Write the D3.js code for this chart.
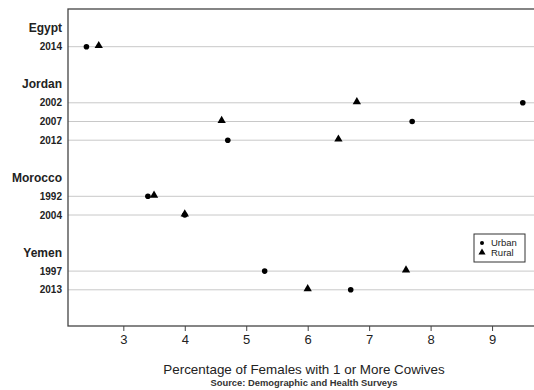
<!DOCTYPE html>
<html>
<head>
<meta charset="utf-8">
<script src="https://cdn.jsdelivr.net/npm/d3@7"></script>
<style>
  body { margin: 0; background: #fff; overflow: hidden; }
  svg { display: block; font-family: "Liberation Sans", Arial, sans-serif; }
</style>
</head>
<body>
<div id="chart"></div>
<script>
// row layout: country headers and survey years
const countries = ["Egypt", "Jordan", "Morocco", "Yemen"];
const years = [["2014"], ["2002", "2007", "2012"], ["1992", "2004"], ["1997", "2013"]];
const urban = [[2.4], [9.5, 7.7, 4.7], [3.4, 4.0], [5.3, 6.7]];
const rural = [[2.6], [6.8, 4.6, 6.5], [3.5, 4.0], [7.6, 6.0]];
const xTicks = [3, 4, 5, 6, 7, 8, 9];

const svgW = 534;
const svgH = 390;
const plotL = 68, plotT = 9, plotB = 326, plotR = 540;

// build rows: header, years, blank
const rows = [];
let idx = 1;
countries.forEach((c, i) => {
    rows.push({ label: c, row: idx, header: true });
    idx++;
    years[i].forEach((y, j) => {
        rows.push({ label: y, row: idx, header: false, urban: urban[i][j], rural: rural[i][j] });
        idx++;
    });
    idx++;
});

const xScale = d3.scaleLinear().domain([2.1, 9.78]).range([plotL, plotR]);
const yScale = d3.scaleLinear().domain([0, 17]).range([plotT + 0.3, plotT + 0.3 + 17 * 18.7]);

const svg = d3.select("#chart").append("svg")
    .attr("width", svgW)
    .attr("height", svgH);

const dataRows = rows.filter(d => !d.header);

// gridlines
svg.selectAll("line.grid")
    .data(dataRows)
    .enter()
    .append("line")
    .attr("class", "grid")
    .attr("x1", plotL)
    .attr("x2", plotR + 30)
    .attr("y1", d => yScale(d.row))
    .attr("y2", d => yScale(d.row))
    .attr("stroke", "#c8c8c8")
    .attr("stroke-width", 1);

// frame (right side runs off the picture)
svg.append("rect")
    .attr("x", plotL)
    .attr("y", plotT)
    .attr("width", plotR - plotL + 30)
    .attr("height", plotB - plotT)
    .attr("fill", "none")
    .attr("stroke", "#444")
    .attr("stroke-width", 1.3);

// row labels
svg.selectAll("text.rowlab")
    .data(rows)
    .enter()
    .append("text")
    .attr("class", "rowlab")
    .attr("x", 62)
    .attr("y", d => yScale(d.row))
    .attr("dy", "0.35em")
    .attr("text-anchor", "end")
    .attr("font-weight", "bold")
    .attr("font-size", d => d.header ? "12px" : "10px")
    .attr("fill", "#222")
    .text(d => d.label);

// x axis
const xAxis = d3.axisBottom(xScale).tickValues(xTicks).tickSize(5).tickPadding(4).tickFormat(d3.format("d"));
const gx = svg.append("g")
    .attr("transform", `translate(0, ${plotB})`)
    .call(xAxis);
gx.select(".domain").remove();
gx.selectAll("line").attr("stroke", "#444");
gx.selectAll("text")
    .attr("font-size", "13px")
    .attr("font-family", "'Liberation Sans', Arial, sans-serif")
    .attr("fill", "#222");

// markers
const tri = d3.symbol().type(d3.symbolTriangle).size(30);

svg.selectAll("circle.urban")
    .data(dataRows)
    .enter()
    .append("circle")
    .attr("class", "urban")
    .attr("cx", d => xScale(d.urban))
    .attr("cy", d => yScale(d.row))
    .attr("r", 2.8)
    .attr("fill", "#000");

svg.selectAll("path.rural")
    .data(dataRows)
    .enter()
    .append("path")
    .attr("class", "rural")
    .attr("d", tri)
    .attr("transform", d => `translate(${xScale(d.rural)}, ${yScale(d.row) - 1})`)
    .attr("fill", "#000");

// legend
const legend = svg.append("g").attr("transform", "translate(474, 234)");
legend.append("rect")
    .attr("width", 51)
    .attr("height", 28)
    .attr("fill", "#fff")
    .attr("stroke", "#333")
    .attr("stroke-width", 1);
legend.append("circle")
    .attr("cx", 8)
    .attr("cy", 9)
    .attr("r", 2)
    .attr("fill", "#000");
legend.append("path")
    .attr("d", d3.symbol().type(d3.symbolTriangle).size(22))
    .attr("transform", "translate(8, 18.5)")
    .attr("fill", "#000");
legend.append("text")
    .attr("x", 17).attr("y", 9).attr("dy", "0.35em")
    .attr("font-size", "9.5px").attr("fill", "#222")
    .text("Urban");
legend.append("text")
    .attr("x", 17).attr("y", 19).attr("dy", "0.35em")
    .attr("font-size", "9.5px").attr("fill", "#222")
    .text("Rural");

// titles
svg.append("text")
    .attr("x", 304)
    .attr("y", 374)
    .attr("text-anchor", "middle")
    .attr("font-size", "13.4px")
    .attr("fill", "#222")
    .text("Percentage of Females with 1 or More Cowives");

svg.append("text")
    .attr("x", 304)
    .attr("y", 386)
    .attr("text-anchor", "middle")
    .attr("font-size", "9.4px")
    .attr("font-weight", "bold")
    .attr("fill", "#333")
    .text("Source: Demographic and Health Surveys");
</script>
</body>
</html>
